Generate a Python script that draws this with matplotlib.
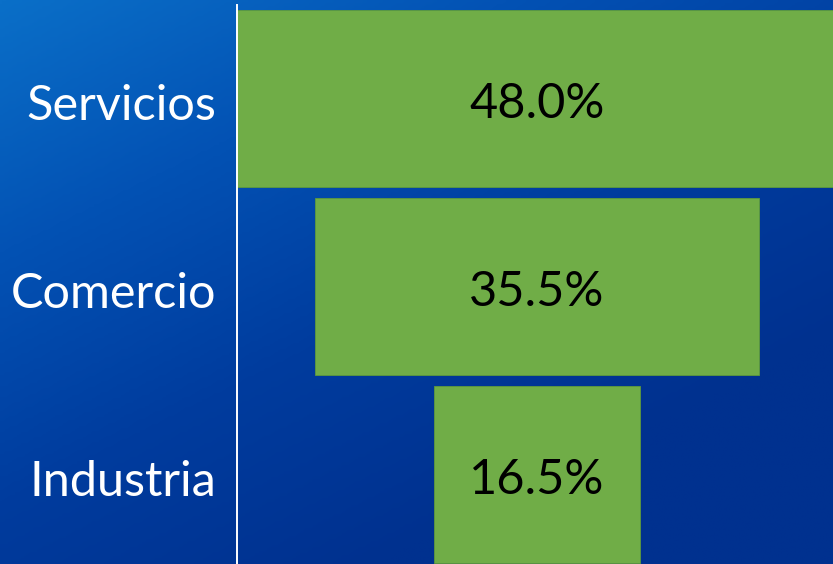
import numpy as np
import matplotlib.pyplot as plt
from matplotlib.colors import LinearSegmentedColormap

# datos
sectores = ["Servicios", "Comercio", "Industria"]
porcentajes = [48.0, 35.5, 16.5]

plt.rcParams['font.family'] = ['Lato', 'DejaVu Sans']

fig = plt.figure(figsize=(8.33, 5.64), dpi=100)

# fondo degradado azul
bg = fig.add_axes([0, 0, 1, 1])
xx, yy = np.meshgrid(np.linspace(0, 1, 200), np.linspace(0, 1, 200))
t = np.clip(0.55 * xx + 0.75 * yy, 0, 1)
cmap = LinearSegmentedColormap.from_list("fondo", ["#0a6fc8", "#0352b4", "#003c9e", "#00318f"])
bg.imshow(t, cmap=cmap, aspect="auto", extent=[0, 1, 0, 1], origin="upper")
bg.axis("off")

W, H = 833, 564
left, right = 237, 837
ax = fig.add_axes([left / W, 0, (right - left) / W, 559 / H])
ax.patch.set_alpha(0)

y = np.arange(len(sectores))
vals = np.array(porcentajes)
ax.barh(y, vals, left=-vals / 2, height=0.94, color="#70ad47", edgecolor="#5e9a3c", linewidth=0.6)
for i, v in enumerate(vals):
    ax.text(0, i + 0.03, "{:.1f}%".format(v), ha="center", va="center", fontsize=35, color="black")

ax.set_xlim(-24, 24)
ax.set_ylim(2.476, -0.497)
ax.set_yticks(y + 0.02)
ax.set_yticklabels(sectores, fontsize=35, color="white")
ax.tick_params(axis="y", length=0, pad=15)
ax.set_xticks([])
for s in ["top", "right", "bottom"]:
    ax.spines[s].set_visible(False)
ax.spines["left"].set_color("white")
ax.spines["left"].set_linewidth(1.4)

fig.savefig("out.png", dpi=100)
